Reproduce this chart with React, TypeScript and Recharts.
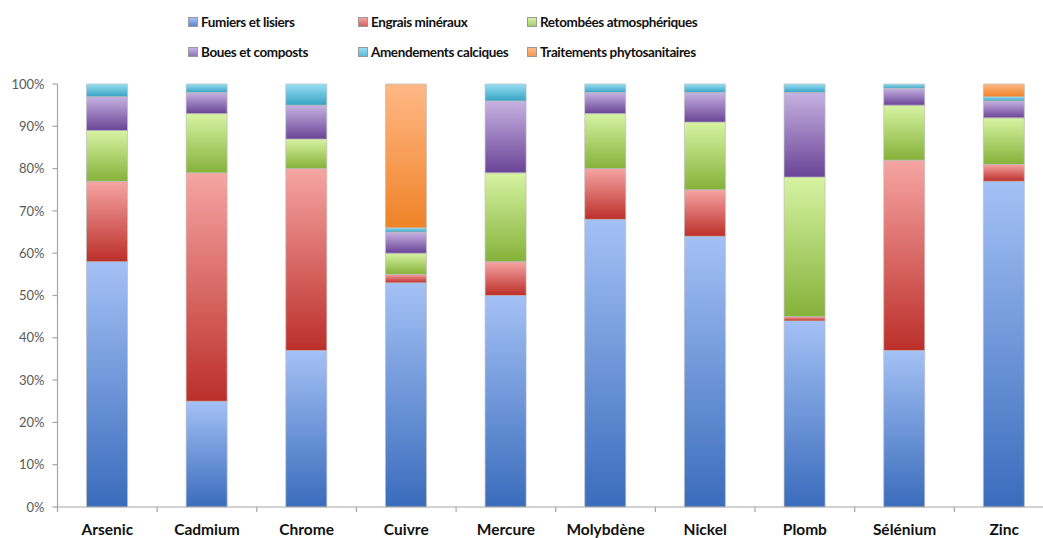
import React from 'react';
import { BarChart, Bar, XAxis, YAxis } from 'recharts';

// categories (elements) and share of each source, in %
const categories = ['Arsenic', 'Cadmium', 'Chrome', 'Cuivre', 'Mercure', 'Molybdène', 'Nickel', 'Plomb', 'Sélénium', 'Zinc'];
const fumiers = [58, 25, 37, 53, 50, 68, 64, 44, 37, 77];
const engrais = [19, 54, 43, 2, 8, 12, 11, 1, 45, 4];
const retombees = [12, 14, 7, 5, 21, 13, 16, 33, 13, 11];
const boues = [8, 5, 8, 5, 17, 5, 7, 20, 4, 4];
const amendements = [3, 2, 5, 1, 4, 2, 2, 2, 1, 1];
const traitements = [0, 0, 0, 34, 0, 0, 0, 0, 0, 3];
const yTicks = [0, 10, 20, 30, 40, 50, 60, 70, 80, 90, 100];

const series = [
    { key: 'fumiers', name: 'Fumiers et lisiers', values: fumiers, light: '#A4C1F5', dark: '#3A6CBC', mark: '#5B87CE' },
    { key: 'engrais', name: 'Engrais minéraux', values: engrais, light: '#F6A5A3', dark: '#BC2F2A', mark: '#D2605C' },
    { key: 'retombees', name: 'Retombées atmosphériques', values: retombees, light: '#D7F3A3', dark: '#85B23A', mark: '#A8CB6A' },
    { key: 'boues', name: 'Boues et composts', values: boues, light: '#C6B2E2', dark: '#6A4496', mark: '#9077B6' },
    { key: 'amendements', name: 'Amendements calciques', values: amendements, light: '#98DFF3', dark: '#38A3C4', mark: '#5CBAD6' },
    { key: 'traitements', name: 'Traitements phytosanitaires', values: traitements, light: '#FFB886', dark: '#EF8327', mark: '#F59A52' },
];

const data = categories.map((name, i) => {
    const row: Record<string, any> = { name };
    series.forEach(s => { row[s.key] = s.values[i]; });
    return row;
});

const CHART_W = 1054;
const CHART_H = 538;
const Y_W = 57.5;
const STEP = (CHART_W - Y_W) / categories.length;

const font = 'Lato, "Open Sans", sans-serif';

const CategoryTick = (props: any) => {
    const { x, y, payload } = props;
    return (
        <g>
            <line x1={x - STEP / 2} y1={y} x2={x - STEP / 2} y2={y + 5} stroke="#A6A6A6" strokeWidth={1.2} />
            <text x={x} y={y + 28} textAnchor="middle" fontFamily={font} fontWeight={700} fontSize={15.5} fill="#111">
                {payload.value}
            </text>
        </g>
    );
};

const legendCols = [188, 358, 527];
const legendRows = [22, 52];

export default function App() {
    return (
        <div style={{ position: 'absolute', left: 0, top: 0, width: 1043, height: 538, overflow: 'hidden', background: '#fff' }}>
            {/* legend: 2 rows x 3 columns */}
            {series.map((s, i) => (
                <div
                    key={s.key}
                    style={{
                        position: 'absolute',
                        left: legendCols[i % 3],
                        top: legendRows[Math.floor(i / 3)] - 10,
                        height: 20,
                        display: 'flex',
                        alignItems: 'center',
                        fontFamily: font,
                        fontWeight: 700,
                        fontSize: 13.5,
                        letterSpacing: -0.4,
                        color: '#111',
                        whiteSpace: 'nowrap',
                    }}
                >
                    <span style={{ display: 'inline-block', width: 8, height: 8, marginRight: 3, background: `linear-gradient(${s.light}, ${s.mark})`, border: '0.5px solid #999' }} />
                    {s.name}
                </div>
            ))}
            <BarChart width={CHART_W} height={CHART_H} data={data} margin={{ top: 84, right: 0, bottom: 0, left: 0 }} barSize={41}>
                <defs>
                    {series.map(s => (
                        <linearGradient key={s.key} id={`grad-${s.key}`} x1="0" y1="0" x2="0" y2="1">
                            <stop offset="0%" stopColor={s.light} />
                            <stop offset="100%" stopColor={s.dark} />
                        </linearGradient>
                    ))}
                </defs>
                <XAxis
                    dataKey="name"
                    height={31}
                    axisLine={{ stroke: '#A6A6A6', strokeWidth: 1.2 }}
                    tickLine={false}
                    tickSize={0}
                    tickMargin={0}
                    interval={0}
                    tick={<CategoryTick />}
                />
                <YAxis
                    width={Y_W}
                    domain={[0, 100]}
                    ticks={yTicks}
                    tickFormatter={(v: number) => `${v}%`}
                    axisLine={{ stroke: '#A6A6A6', strokeWidth: 1.2 }}
                    tickLine={{ stroke: '#A6A6A6', strokeWidth: 1.2 }}
                    tickSize={5}
                    tickMargin={8}
                    tick={{ fontFamily: font, fontSize: 13, fill: '#595959' }}
                    interval={0}
                />
                {series.map(s => (
                    <Bar
                        key={s.key}
                        dataKey={s.key}
                        name={s.name}
                        stackId="a"
                        fill={`url(#grad-${s.key})`}
                        stroke="#BDBDBD"
                        strokeWidth={0.7}
                        isAnimationActive={false}
                    />
                ))}
            </BarChart>
        </div>
    );
}
